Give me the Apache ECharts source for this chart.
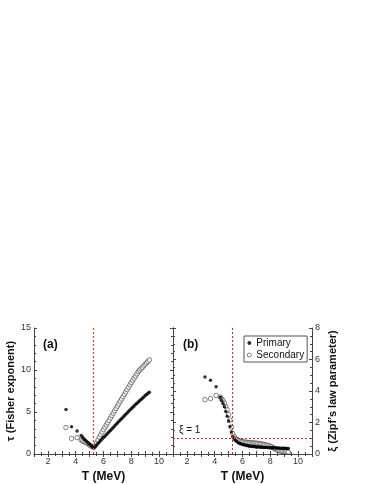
<!DOCTYPE html>
<html>
<head>
<meta charset="utf-8">
<script src="https://cdn.jsdelivr.net/npm/echarts@6/dist/echarts.min.js"></script>
<style>
  html, body { margin: 0; padding: 0; background: #fff; }
  #chart { width: 374px; height: 484px; }
</style>
</head>
<body>
<div id="chart"></div>
<script>
// temperatures (MeV), shared by all four series
var temps = [3.3, 3.7, 4.1, 4.4,
  4.5, 4.6, 4.7, 4.8, 4.9, 5.0, 5.1, 5.2, 5.3, 5.4, 5.5, 5.6, 5.7, 5.8, 5.9,
  6.0, 6.1, 6.2, 6.3, 6.4, 6.5, 6.6, 6.7, 6.8, 6.9, 7.0, 7.1, 7.2, 7.3, 7.4,
  7.5, 7.6, 7.7, 7.8, 7.9, 8.0, 8.1, 8.2, 8.3, 8.4, 8.5, 8.6, 8.7, 8.8, 8.9,
  9.0, 9.1, 9.2, 9.3];

// (a) Fisher exponent tau
var tauPrimary = [5.3, 3.25, 2.75, 2.2,
  2.0, 1.8, 1.65, 1.45, 1.3, 1.15, 1.0, 0.85, 0.75, 0.9, 1.08, 1.25, 1.42, 1.6, 1.78,
  1.95, 2.12, 2.3, 2.47, 2.64, 2.8, 2.98, 3.16, 3.33, 3.52, 3.7, 3.87, 4.04, 4.21, 4.38,
  4.55, 4.72, 4.89, 5.06, 5.23, 5.4, 5.56, 5.72, 5.88, 6.04, 6.2, 6.35, 6.5, 6.65, 6.8,
  6.95, 7.09, 7.22, 7.35];
var tauSecondary = [3.15, 1.85, 1.95, 1.65,
  1.55, 1.48, 1.4, 1.3, 1.2, 1.07, 0.95, 0.85, 0.8, 1.0, 1.3, 1.65, 2.0, 2.3, 2.6,
  2.9, 3.18, 3.45, 3.72, 4.0, 4.3, 4.58, 4.86, 5.14, 5.42, 5.7, 5.98, 6.26, 6.54, 6.82,
  7.1, 7.38, 7.66, 7.94, 8.22, 8.5, 8.76, 9.02, 9.28, 9.54, 9.8, 9.98, 10.15, 10.33, 10.5,
  10.68, 10.85, 11.02, 11.2];

// (b) Zipf's law parameter xi
var xiPrimary = [4.89, 4.69, 4.27, 3.6,
  3.4, 3.2, 3.0, 2.7, 2.4, 2.1, 1.75, 1.4, 1.1, 0.95, 0.85, 0.77, 0.71, 0.67, 0.63,
  0.6, 0.58, 0.56, 0.54, 0.52, 0.5, 0.49, 0.48, 0.47, 0.46, 0.45, 0.44, 0.44, 0.43, 0.43,
  0.42, 0.42, 0.41, 0.41, 0.4, 0.4, 0.4, 0.39, 0.39, 0.38, 0.38, 0.38, 0.37, 0.37, 0.37,
  0.36, 0.36, 0.35, 0.35];
var xiSecondary = [3.45, 3.52, 3.72, 3.62,
  3.5, 3.4, 3.22, 3.02, 2.8, 2.5, 2.15, 1.7, 1.3, 1.1, 0.98, 0.92, 0.87, 0.83, 0.8,
  0.78, 0.76, 0.75, 0.74, 0.73, 0.72, 0.71, 0.7, 0.7, 0.69, 0.68, 0.67, 0.66, 0.64, 0.63,
  0.61, 0.59, 0.57, 0.55, 0.52, 0.49, 0.45, 0.4, 0.35, 0.3, 0.26, 0.22, 0.2, 0.18, 0.16,
  0.15, 0.14, 0.13, 0.12];

var tCritical = 5.28;
var xiLevel = 1;

var font = "'Liberation Sans', Arial, sans-serif";
var axisColor = '#444';

function pairs(ys) {
  return temps.map(function (t, i) { return [t, ys[i]]; });
}

function xAxisOf(grid, pos, withLabels) {
  return {
    type: 'value', gridIndex: grid, position: pos,
    min: 1, max: 11, interval: 1,
    name: withLabels ? 'T (MeV)' : '', nameLocation: 'middle', nameGap: 17,
    nameTextStyle: { fontFamily: font, fontWeight: 'bold', fontSize: 12, color: '#111' },
    axisLine: { show: true, lineStyle: { color: axisColor, width: 1 } },
    axisTick: { show: true, inside: true, length: 3, lineStyle: { color: axisColor } },
    minorTick: { show: true, splitNumber: 2, length: 2, lineStyle: { color: axisColor } },
    axisLabel: {
      show: withLabels, fontFamily: font, fontSize: 9, color: '#333', margin: 3,
      formatter: function (v) { return v % 2 === 0 ? String(v) : ''; }
    },
    splitLine: { show: false }
  };
}

function yAxisOf(grid, pos, max, step, minorSplit, name, nameGap) {
  return {
    type: 'value', gridIndex: grid, position: pos,
    min: 0, max: max, interval: step,
    name: name, nameLocation: 'middle', nameGap: nameGap, nameRotate: 90,
    nameTextStyle: { fontFamily: font, fontWeight: 'bold', fontSize: 11, color: '#111' },
    axisLine: { show: true, lineStyle: { color: axisColor, width: 1 } },
    axisTick: { show: true, inside: true, length: 3, lineStyle: { color: axisColor } },
    minorTick: { show: true, splitNumber: minorSplit, length: 2, lineStyle: { color: axisColor } },
    axisLabel: { show: name !== '', fontFamily: font, fontSize: 9, color: '#333', margin: 3 },
    splitLine: { show: false }
  };
}

// open markers: white disc with a thin dark outline
var openStyle = { color: '#fff', borderColor: '#222', borderWidth: 0.7 };

var chart = echarts.init(document.getElementById('chart'), null, { renderer: 'canvas' });

chart.setOption({
  animation: false,
  backgroundColor: '#fff',
  title: [
    { text: '(a)', left: 38, top: 334, textStyle: { fontFamily: font, fontWeight: 'bold', fontSize: 12, color: '#111' } },
    { text: '(b)', left: 178, top: 334, textStyle: { fontFamily: font, fontWeight: 'bold', fontSize: 12, color: '#111' } }
  ],
  legend: {
    data: [
      { name: 'Primary', icon: 'circle', itemStyle: { color: '#000', borderWidth: 0 } },
      { name: 'Secondary', icon: 'circle', itemStyle: { color: '#fff', borderColor: '#222', borderWidth: 0.7 } }
    ],
    orient: 'vertical',
    left: 244, top: 336,
    backgroundColor: '#fff',
    borderColor: '#555', borderWidth: 1,
    padding: [2, 3, 2, 3],
    itemGap: 2, itemWidth: 8, itemHeight: 4,
    textStyle: { fontFamily: font, fontSize: 10, color: '#111', padding: [0, 0, 0, -2] }
  },
  grid: [
    { left: 34, top: 328, width: 139, height: 127 },
    { left: 173, top: 328, width: 139, height: 127 }
  ],
  xAxis: [
    xAxisOf(0, 'bottom', true),
    xAxisOf(0, 'top', false),
    xAxisOf(1, 'bottom', true),
    xAxisOf(1, 'top', false)
  ],
  yAxis: [
    yAxisOf(0, 'left', 15, 5, 5, '\u03c4 (Fisher exponent)', 18),
    yAxisOf(0, 'right', 15, 5, 5, '', 0),
    yAxisOf(1, 'right', 8, 2, 4, '\u03be (Zipf\u2019s law parameter)', 15),
    yAxisOf(1, 'left', 8, 2, 4, '', 0)
  ],
  series: [
    {
      name: 'Secondary', type: 'scatter', xAxisIndex: 0, yAxisIndex: 0,
      symbol: 'circle', symbolSize: 4.5,
      itemStyle: openStyle,
      data: pairs(tauSecondary),
      markLine: {
        silent: true, symbol: 'none', animation: false,
        lineStyle: { color: '#f03c3c', type: [2, 2], width: 1.2 },
        label: { show: false },
        data: [{ xAxis: tCritical }]
      }
    },
    {
      name: 'Primary', type: 'scatter', xAxisIndex: 0, yAxisIndex: 0,
      symbol: 'circle', symbolSize: 3.5,
      itemStyle: { color: '#000' },
      data: pairs(tauPrimary)
    },
    {
      name: 'Secondary', type: 'scatter', xAxisIndex: 2, yAxisIndex: 2,
      symbol: 'circle', symbolSize: 4.5,
      itemStyle: openStyle,
      data: pairs(xiSecondary),
      markLine: {
        silent: true, symbol: 'none', animation: false,
        lineStyle: { color: '#e32020', type: [2, 2], width: 1 },
        data: [
          { xAxis: tCritical, label: { show: false } },
          {
            yAxis: xiLevel,
            label: {
              show: true, position: 'insideStartTop', formatter: '\u03be = 1',
              fontFamily: font, fontSize: 10, color: '#111', distance: [6, 3]
            }
          }
        ]
      }
    },
    {
      name: 'Primary', type: 'scatter', xAxisIndex: 2, yAxisIndex: 2,
      symbol: 'circle', symbolSize: 3.5,
      itemStyle: { color: '#000' },
      data: pairs(xiPrimary)
    }
  ]
});
</script>
</body>
</html>
